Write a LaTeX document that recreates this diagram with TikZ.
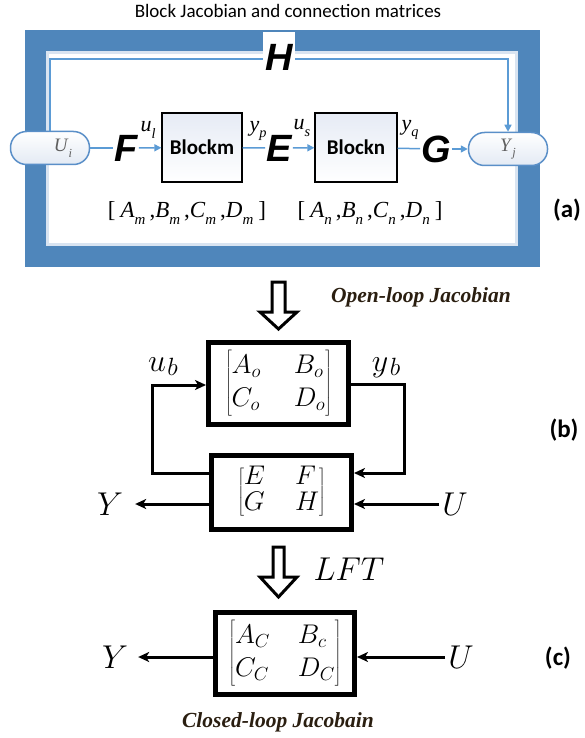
\RequirePackage{fix-cm}
\documentclass[tikz,border=0pt]{standalone}
\usepackage{fontspec}
\usepackage{graphicx}
\usetikzlibrary{arrows.meta}
\newfontfamily\carlito{Carlito}
\newfontfamily\lsans{Liberation Sans}
\newfontfamily\lserif{Liberation Serif}
\definecolor{frameblue}{HTML}{4F86BB}
\definecolor{paleblue}{HTML}{D9E4F1}
\definecolor{lineblue}{HTML}{5B9BD5}
\definecolor{pillblue}{HTML}{5A8FC8}
\definecolor{pillfill}{HTML}{E3EAF4}
\definecolor{blockfill}{HTML}{E6EBF5}
\definecolor{pilltext}{HTML}{5F5F5F}
\definecolor{captext}{HTML}{2A1E10}
\newcommand\tsub[2]{\textit{#1}\raisebox{-0.3em}{\scalebox{0.65}{\textit{#2}}}}
\newcommand\bigsub[2]{$#1$\kern1.5pt\raisebox{-4pt}{\scalebox{0.78}{$#2$}}}
\begin{document}
\begin{tikzpicture}[x=1pt,y=-1pt,
 blockbox/.style={draw=black, line width=1.3pt, top color=blockfill, bottom color=white, minimum height=69pt, inner sep=0pt, font=\carlito\bfseries\fontsize{21}{21}\selectfont},
 pill/.style={draw=pillblue, line width=1.5pt, rounded corners=16pt, minimum width=79pt, minimum height=33pt, inner sep=0pt, top color=white, bottom color=pillfill, text=pilltext, font=\lserif\fontsize{19}{19}\selectfont},
 bigletter/.style={inner sep=1pt, font=\lsans\bfseries\itshape\fontsize{38}{38}\selectfont},
 sig/.style={inner sep=0pt, font=\lserif\fontsize{22}{22}\selectfont},
 par/.style={inner sep=0pt, font=\lserif\fontsize{23}{23}\selectfont},
 bline/.style={draw=lineblue, line width=1.5pt},
 barrow/.style={draw=lineblue, line width=1.5pt, -{Triangle[length=7pt,width=7pt]}},
 mbox/.style={draw=black, line width=5pt, inner sep=0pt},
 karrow/.style={draw=black, line width=3pt, -{Stealth[length=11pt,width=10pt,inset=3pt]}},
 hollow/.style={draw=black, line width=3pt, fill=white, line join=miter},
 panel/.style={font=\carlito\bfseries\fontsize{25}{25}\selectfont},
 caption/.style={text=captext, font=\lserif\bfseries\itshape\fontsize{21.5}{21.5}\selectfont},
 mathlbl/.style={font=\fontsize{33}{33}\selectfont},
 sublbl/.style={font=\fontsize{32}{32}\selectfont},
]
\useasboundingbox (0,0) rectangle (584,738);
% ---------- (a) ----------
\node[font=\carlito\fontsize{19}{19}\selectfont] (title) at (288,11) {Block Jacobian and connection matrices};
\fill[frameblue] (25,30) rectangle (540,267);
\fill[white] (46,51) rectangle (518,246);
\draw[paleblue, line width=3pt] (47.5,52.5) rectangle (516.5,244.5);

\node[pill] (ui) at (50,148) {\hspace{26pt}\tsub{U}{i}};
\node[pill] (yj) at (508,149) {\tsub{Y}{j}\hspace{22pt}};
\node[blockbox, minimum width=80pt] (bm) at (202,147.5) {Blockm};
\node[blockbox, minimum width=82pt] (bn) at (356,147.5) {Blockn};
\node[bigletter] (F) at (126,148) {F};
\node[bigletter] (E) at (279,148) {E};
\node[bigletter] (G) at (436,149) {G};

\coordinate (htop) at (279,59);
\draw[barrow] (ui.north) |- (htop) -| (yj.north);
\node[bigletter, fill=white, anchor=base, text height=39pt, text depth=1pt, inner ysep=0pt, inner xsep=2pt] (H) at (279,71) {H};

\draw[bline] (ui) -- (F);
\draw[barrow] (F) -- (bm);
\draw[bline] (bm) -- (E);
\draw[barrow] (E) -- (bn);
\draw[bline] (bn) -- (G);
\draw[barrow] (G) -- (yj);

\node[sig] (ul) at (148,130) {\tsub{u}{l}};
\node[sig] (yp) at (258,131) {\tsub{y}{p}};
\node[sig] (us) at (302,128) {\tsub{u}{s}};
\node[sig] (yq) at (410,130) {\tsub{y}{q}};
\node[par] (pm) at (187,213) {[\hspace{5pt}\tsub{A}{m}\hspace{4pt},\tsub{B}{m}\hspace{4pt},\tsub{C}{m}\hspace{4pt},\tsub{D}{m}\hspace{5pt}]};
\node[par] (pn) at (370,213) {[\hspace{5pt}\tsub{A}{n}\hspace{4pt},\tsub{B}{n}\hspace{4pt},\tsub{C}{n}\hspace{4pt},\tsub{D}{n}\hspace{5pt}]};
\node[panel] (la) at (567,210) {(a)};

% ---------- (b) ----------
\draw[hollow] (272,282) -- (285,282) -- (285,312) -- (297,312) -- (278.5,329) -- (260,312) -- (272,312) -- cycle;
\node[caption] (olj) at (421,297) {Open-loop Jacobian};

\node[mbox, minimum width=140pt, minimum height=82pt] (bo) at (278.5,383.5)
 {\fontsize{27}{33}\selectfont$\left[\begin{array}{@{}l@{\hspace{33pt}}l@{}}A_o & B_o\\ C_o & D_o\end{array}\right]$};
\node[mbox, minimum width=140pt, minimum height=74pt] (be) at (281.5,492.5)
 {\fontsize{27}{26}\selectfont$\left[\begin{array}{@{}l@{\hspace{30pt}}l@{}}E & F\\ G & H\end{array}\right]$};

\node[sublbl, anchor=base] (ub) at (163,371) {\bigsub{u}{b}};
\node[sublbl, anchor=base] (yb) at (386,371) {\bigsub{y}{b}};

\coordinate (fl1) at (152,473);
\coordinate (fl2) at (152,385);
\draw[karrow] (be.west |- fl1) -- (fl1) -- (fl2) -- (bo.west |- fl2);
\coordinate (fr1) at (404,384);
\coordinate (fr2) at (404,473);
\draw[karrow] (bo.east |- fr1) -- (fr1) -- (fr2) -- (be.east |- fr2);

\node[mathlbl, inner xsep=12pt] (Yb) at (110,504) {$Y$};
\node[mathlbl, inner xsep=3pt] (Ub) at (455,504) {$U$};
\draw[karrow] (be.west |- Yb) -- (Yb);
\draw[karrow] (Ub) -- (be.east |- Ub);
\node[panel] (lb) at (564,430) {(b)};

% ---------- (c) ----------
\draw[hollow] (273,547) -- (284,547) -- (284,577) -- (297,577) -- (278.5,597) -- (260,577) -- (273,577) -- cycle;
\node[mathlbl] (lft) at (349,569) {$LFT$};
\node[mbox, minimum width=139pt, minimum height=82pt] (bc) at (285,653.5)
 {\fontsize{27}{33}\selectfont$\left[\begin{array}{@{}l@{\hspace{28pt}}l@{}}A_C & B_c\\ C_C & D_C\end{array}\right]$};
\node[mathlbl, inner xsep=10pt] (Yc) at (115,657) {$Y$};
\node[mathlbl, inner xsep=3pt] (Uc) at (461,657) {$U$};
\draw[karrow] (bc.west |- Yc) -- (Yc);
\draw[karrow] (Uc) -- (bc.east |- Uc);
\node[panel] (lc) at (558,658) {(c)};
\node[caption] (clj) at (278,722) {Closed-loop Jacobain};
\end{tikzpicture}
\end{document}
